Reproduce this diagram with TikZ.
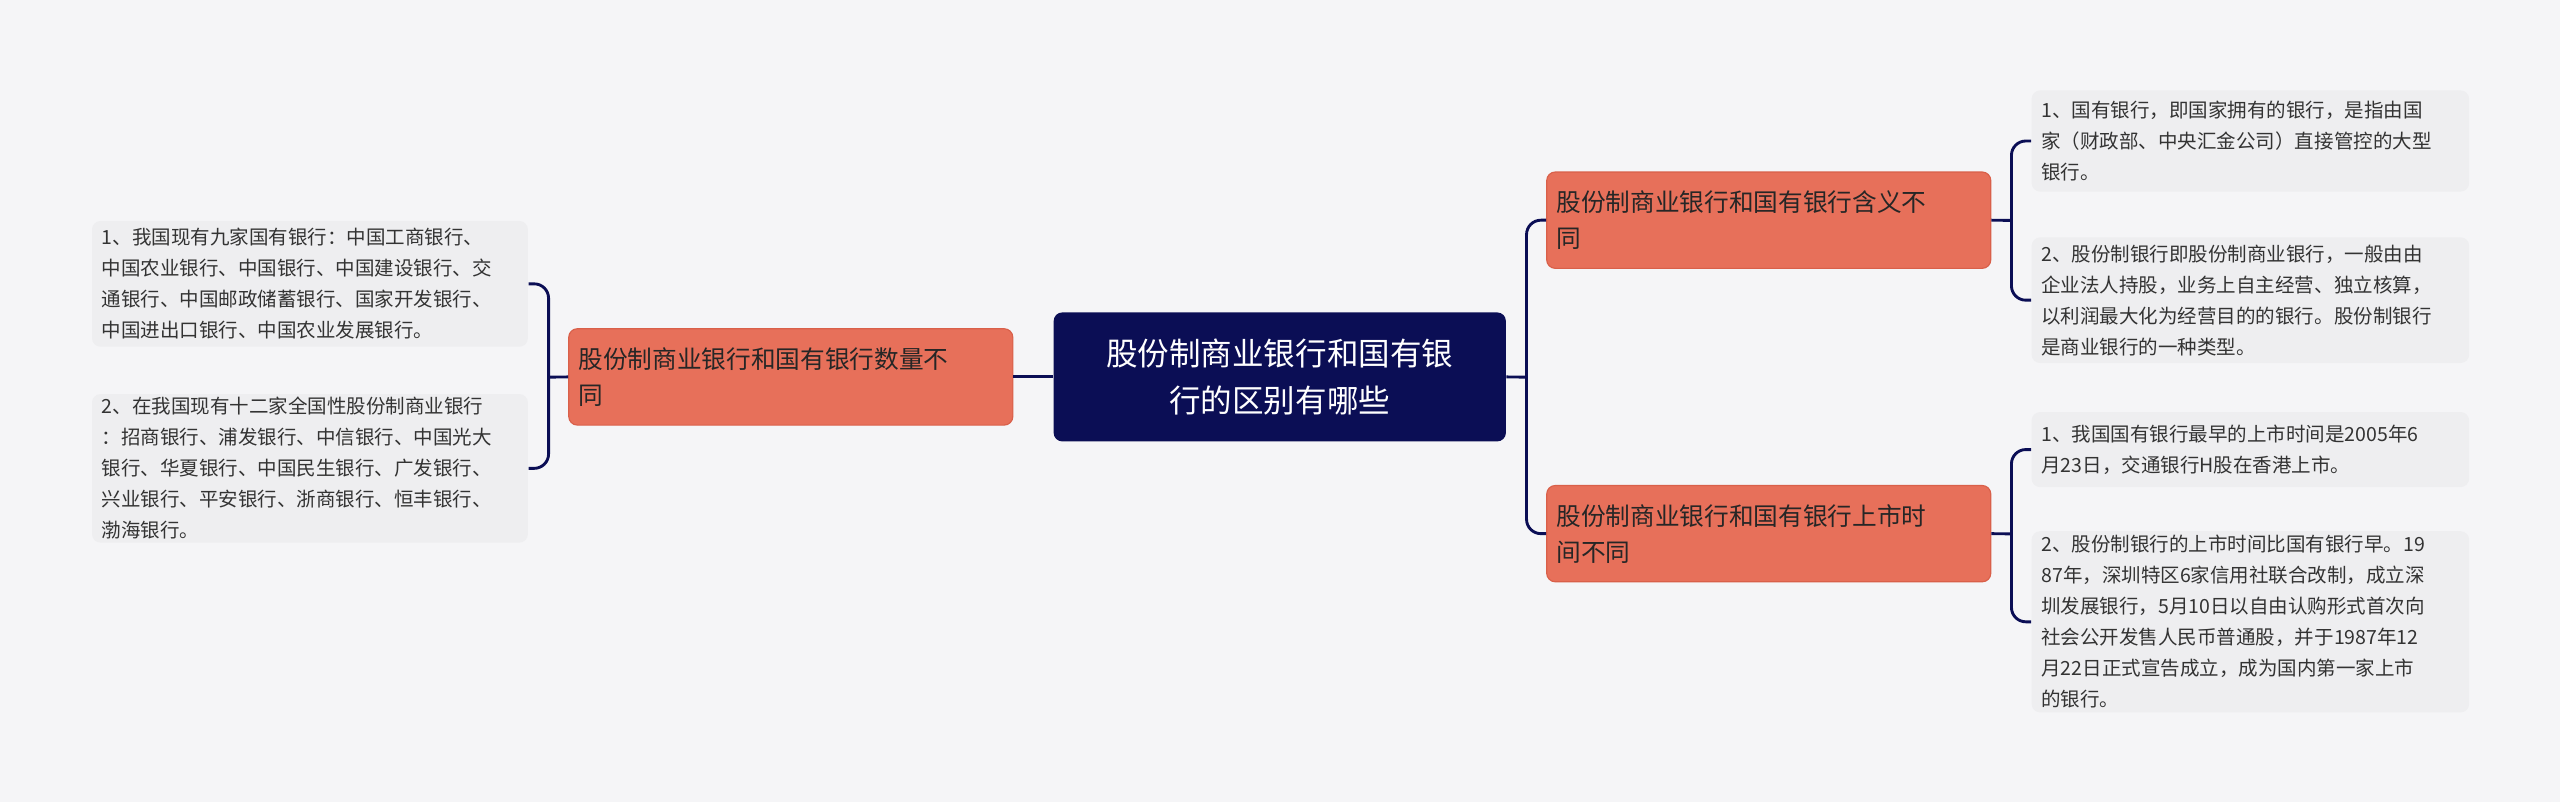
\documentclass[tikz,border=0pt]{standalone}
\usepackage{fontspec}
\setmainfont{Noto Sans CJK SC}
\begin{document}
\begin{tikzpicture}[x=0.02cm,y=-0.02cm,
 box/.style={rounded corners=3pt,inner sep=0pt,anchor=north west},
 leaf/.style={box,fill=leafc,text=black!80,font=\fontsize{6.8}{10.8}\selectfont,align=left},
 br/.style={box,fill=brc,draw=brd,line width=0.4pt,text=black!85,font=\fontsize{8.6}{12.6}\selectfont,align=left},
 cn/.style={box,fill=navy,text=white,font=\fontsize{11}{16.5}\selectfont,align=center},
 ln/.style={draw=navy,line width=1pt,rounded corners=5pt}]
\definecolor{bg}{HTML}{F5F5F7}
\definecolor{navy}{HTML}{0B0E55}
\definecolor{brc}{HTML}{E7705A}
\definecolor{brd}{HTML}{D9604A}
\definecolor{leafc}{HTML}{EEEEF0}
\fill[bg] (0,0) rectangle (1568,491);
\useasboundingbox (0,0) rectangle (1568,491);
% center
\node[cn,minimum width=277*0.02cm,minimum height=79*0.02cm] (c) at (645,191) {股份制商业银行和国有银\\行的区别有哪些};
% branches
\node[br,minimum width=272*0.02cm,minimum height=59*0.02cm,text width=260*0.02cm] (lb) at (348,201) {股份制商业银行和国有银行数量不\\同};
\node[br,minimum width=272*0.02cm,minimum height=59*0.02cm,text width=260*0.02cm] (rb1) at (947,105) {股份制商业银行和国有银行含义不\\同};
\node[br,minimum width=272*0.02cm,minimum height=59*0.02cm,text width=260*0.02cm] (rb2) at (947,297) {股份制商业银行和国有银行上市时\\间不同};
% leaves
\node[leaf,minimum width=267*0.02cm,minimum height=77*0.02cm,text width=255*0.02cm] (l1) at (56,135) {1、我国现有九家国有银行：中国工商银行、\\中国农业银行、中国银行、中国建设银行、交\\通银行、中国邮政储蓄银行、国家开发银行、\\中国进出口银行、中国农业发展银行。};
\node[leaf,minimum width=267*0.02cm,minimum height=91*0.02cm,text width=255*0.02cm] (l2) at (56,241) {2、在我国现有十二家全国性股份制商业银行\\：招商银行、浦发银行、中信银行、中国光大\\银行、华夏银行、中国民生银行、广发银行、\\兴业银行、平安银行、浙商银行、恒丰银行、\\渤海银行。};
\node[leaf,minimum width=268*0.02cm,minimum height=62*0.02cm,text width=256*0.02cm] (r1) at (1244,55) {1、国有银行，即国家拥有的银行，是指由国\\家（财政部、中央汇金公司）直接管控的大型\\银行。};
\node[leaf,minimum width=268*0.02cm,minimum height=77*0.02cm,text width=256*0.02cm] (r2) at (1244,145) {2、股份制银行即股份制商业银行，一般由由\\企业法人持股，业务上自主经营、独立核算，\\以利润最大化为经营目的的银行。股份制银行\\是商业银行的一种类型。};
\node[leaf,minimum width=268*0.02cm,minimum height=46*0.02cm,text width=256*0.02cm] (r3) at (1244,252) {1、我国国有银行最早的上市时间是2005年6\\月23日，交通银行H股在香港上市。};
\node[leaf,minimum width=268*0.02cm,minimum height=111*0.02cm,text width=256*0.02cm] (r4) at (1244,325) {2、股份制银行的上市时间比国有银行早。19\\87年，深圳特区6家信用社联合改制，成立深\\圳发展银行，5月10日以自由认购形式首次向\\社会公开发售人民币普通股，并于1987年12\\月22日正式宣告成立，成为国内第一家上市\\的银行。};
% connectors
\draw[ln] (c.west) -- (lb.east);
\coordinate (lj) at (336,231);
\draw[ln] (lb.west) -- (lj);
\draw[ln] (l1.east) -- (l1.east -| lj) -- (l2.east -| lj) -- (l2.east);
\coordinate (cj) at (935,231);
\draw[ln] (c.east) -- (cj);
\draw[ln] (rb1.west) -- (rb1.west -| cj) -- (rb2.west -| cj) -- (rb2.west);
\coordinate (rj1) at (1232,135);
\draw[ln] (rb1.east) -- (rj1);
\draw[ln] (r1.west) -- (r1.west -| rj1) -- (r2.west -| rj1) -- (r2.west);
\coordinate (rj2) at (1232,327);
\draw[ln] (rb2.east) -- (rj2);
\draw[ln] (r3.west) -- (r3.west -| rj2) -- (r4.west -| rj2) -- (r4.west);
\end{tikzpicture}
\end{document}
